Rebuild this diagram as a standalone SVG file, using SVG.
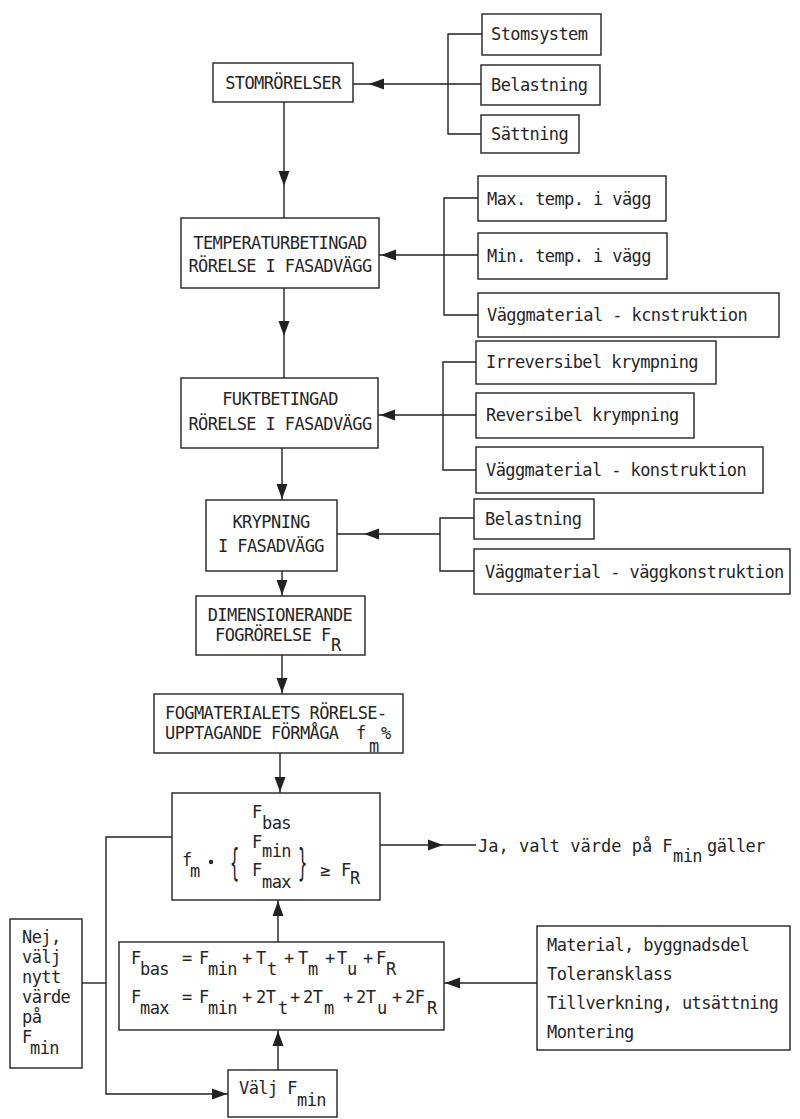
<svg xmlns="http://www.w3.org/2000/svg" xmlns:xlink="http://www.w3.org/1999/xlink" width="800" height="1119" viewBox="0 0 800 1119">
<defs>
<style>
.box{fill:none;stroke:#222;stroke-width:1.4}
.ln{fill:none;stroke:#222;stroke-width:1.4}
.ah{fill:#222;stroke:none}
text{font-family:"DejaVu Sans Mono","Liberation Mono",monospace;font-size:17px;letter-spacing:-0.6px;fill:#262626}
.c{text-anchor:middle}
</style>
<path id="ah" d="M0,0 L-15,-5.5 L-15,5.5 Z"/>
</defs>
<rect width="800" height="1119" fill="#ffffff"/>

<g id="connectors">
<path class="ln" d="M482,34 H448 V134 H481 M481,84 H353"/>
<path class="ln" d="M284,102 V218"/>
<path class="ln" d="M478,198 H444 V315 H478 M478,255 H379"/>
<path class="ln" d="M284,288 V378"/>
<path class="ln" d="M476,362 H443 V470 H476 M476,415 H378"/>
<path class="ln" d="M282,448 V500"/>
<path class="ln" d="M474,518 H440 V571 H474 M440,534 H337"/>
<path class="ln" d="M282,571 V596"/>
<path class="ln" d="M282,655 V694"/>
<path class="ln" d="M280,753 V793"/>
<path class="ln" d="M380,845 H476"/>
<path class="ln" d="M278,942 V900"/>
<path class="ln" d="M278,1070 V1030"/>
<path class="ln" d="M537,983 H444"/>
<path class="ln" d="M172,837 H106 V1094 H228"/>
<path class="ln" d="M82,983 H106"/>
<use href="#ah" class="ah" transform="translate(369,84) rotate(180)"/>
<use href="#ah" class="ah" transform="translate(284,186) rotate(90)"/>
<use href="#ah" class="ah" transform="translate(381,255) rotate(180)"/>
<use href="#ah" class="ah" transform="translate(284,336) rotate(90)"/>
<use href="#ah" class="ah" transform="translate(380,415) rotate(180)"/>
<use href="#ah" class="ah" transform="translate(282,499) rotate(90)"/>
<use href="#ah" class="ah" transform="translate(364,534) rotate(180)"/>
<use href="#ah" class="ah" transform="translate(282,595) rotate(90)"/>
<use href="#ah" class="ah" transform="translate(282,693) rotate(90)"/>
<use href="#ah" class="ah" transform="translate(280,792) rotate(90)"/>
<use href="#ah" class="ah" transform="translate(443,845)"/>
<use href="#ah" class="ah" transform="translate(278,901) rotate(-90)"/>
<use href="#ah" class="ah" transform="translate(278,1031) rotate(-90)"/>
<use href="#ah" class="ah" transform="translate(445,983) rotate(180)"/>
<use href="#ah" class="ah" transform="translate(227,1094)"/>
</g>

<g id="stomrorelser">
<rect class="box" x="213" y="63" width="140" height="39"/>
<text class="c" x="283" y="89">STOMRÖRELSER</text>
</g>
<g id="stomsystem">
<rect class="box" x="482" y="14" width="119" height="41"/>
<text x="491" y="40">Stomsystem</text>
</g>
<g id="belastning1">
<rect class="box" x="481" y="65" width="119" height="40"/>
<text x="491" y="91">Belastning</text>
</g>
<g id="sattning">
<rect class="box" x="481" y="115" width="98" height="38"/>
<text x="491" y="140">Sättning</text>
</g>

<g id="temperatur">
<rect class="box" x="181" y="218" width="198" height="70"/>
<text class="c" x="280" y="249">TEMPERATURBETINGAD</text>
<text class="c" x="280" y="272">RÖRELSE I FASADVÄGG</text>
</g>
<g id="maxtemp">
<rect class="box" x="478" y="176" width="188" height="45"/>
<text x="487" y="205">Max. temp. i vägg</text>
</g>
<g id="mintemp">
<rect class="box" x="478" y="233" width="189" height="46"/>
<text x="487" y="262">Min. temp. i vägg</text>
</g>
<g id="vaggmaterial1">
<rect class="box" x="478" y="293" width="301" height="44"/>
<text x="487" y="321">Väggmaterial - kcnstruktion</text>
</g>

<g id="fukt">
<rect class="box" x="181" y="378" width="197" height="70"/>
<text class="c" x="280" y="405">FUKTBETINGAD</text>
<text class="c" x="280" y="430">RÖRELSE I FASADVÄGG</text>
</g>
<g id="irreversibel">
<rect class="box" x="476" y="341" width="240" height="43"/>
<text x="486" y="368">Irreversibel krympning</text>
</g>
<g id="reversibel">
<rect class="box" x="476" y="393" width="218" height="45"/>
<text x="486" y="421">Reversibel krympning</text>
</g>
<g id="vaggmaterial2">
<rect class="box" x="476" y="447" width="287" height="46"/>
<text x="486" y="476">Väggmaterial - konstruktion</text>
</g>

<g id="krypning">
<rect class="box" x="206" y="500" width="131" height="71"/>
<text class="c" x="271" y="528">KRYPNING</text>
<text class="c" x="271" y="552">I FASADVÄGG</text>
</g>
<g id="belastning2">
<rect class="box" x="474" y="499" width="120" height="40"/>
<text x="485" y="525">Belastning</text>
</g>
<g id="vaggmaterial3">
<rect class="box" x="474" y="549" width="316" height="45"/>
<text x="485" y="578">Väggmaterial - väggkonstruktion</text>
</g>

<g id="dimensionerande">
<rect class="box" x="196" y="596" width="169" height="59"/>
<text class="c" x="280" y="621">DIMENSIONERANDE</text>
<text x="215" y="641">FOGRÖRELSE F</text>
<text x="331" y="651">R</text>
</g>

<g id="fogmaterial">
<rect class="box" x="154" y="694" width="249" height="59"/>
<text x="165" y="719">FOGMATERIALETS RÖRELSE-</text>
<text x="165" y="739">UPPTAGANDE FÖRMÅGA</text>
<text x="356" y="739">f</text>
<text x="369" y="752">m</text>
<text x="381" y="739">%</text>
</g>

<g id="villkor">
<rect class="box" x="172" y="793" width="208" height="107"/>
<text x="252" y="818">F</text>
<text x="262" y="829">bas</text>
<text x="182" y="866">f</text>
<text x="190" y="877">m</text>
<circle cx="211" cy="862" r="2.2" fill="#262626"/>
<text transform="translate(230,875) scale(0.9,2.2)">{</text>
<text x="252" y="848">F</text>
<text x="262" y="857">min</text>
<text x="252" y="876">F</text>
<text x="262" y="888">max</text>
<text transform="translate(298,875) scale(0.9,2.2)">}</text>
<text x="320" y="876">≥</text>
<text x="341" y="876">F</text>
<text x="350" y="884">R</text>
</g>

<g id="formler">
<rect class="box" x="119" y="942" width="325" height="88"/>
<text x="131" y="964">F</text>
<text x="140" y="975">bas</text>
<text x="182" y="964">=</text>
<text x="199" y="964">F</text>
<text x="208" y="975">min</text>
<text x="242" y="964">+</text>
<text x="256" y="964">T</text>
<text x="267" y="975">t</text>
<text x="284" y="964">+</text>
<text x="298" y="964">T</text>
<text x="308" y="975">m</text>
<text x="325" y="964">+</text>
<text x="337" y="964">T</text>
<text x="347" y="975">u</text>
<text x="363" y="964">+</text>
<text x="376" y="964">F</text>
<text x="386" y="975">R</text>
<text x="131" y="1003">F</text>
<text x="140" y="1014">max</text>
<text x="182" y="1003">=</text>
<text x="199" y="1003">F</text>
<text x="208" y="1014">min</text>
<text x="242" y="1003">+</text>
<text x="256" y="1003">2T</text>
<text x="278" y="1014">t</text>
<text x="290" y="1003">+</text>
<text x="303" y="1003">2T</text>
<text x="324" y="1014">m</text>
<text x="343" y="1003">+</text>
<text x="356" y="1003">2T</text>
<text x="377" y="1014">u</text>
<text x="392" y="1003">+</text>
<text x="405" y="1003">2F</text>
<text x="427" y="1014">R</text>
</g>

<g id="ja">
<text x="478" y="852" textLength="194" lengthAdjust="spacing">Ja, valt värde på F</text>
<text x="673" y="862">min</text>
<text x="707" y="852">gäller</text>
</g>

<g id="nej">
<rect class="box" x="10" y="919" width="72" height="149"/>
<text x="22" y="943">Nej,</text>
<text x="22" y="963">välj</text>
<text x="22" y="983">nytt</text>
<text x="22" y="1003">värde</text>
<text x="22" y="1023">på</text>
<text x="22" y="1043">F</text>
<text x="30" y="1054">min</text>
</g>

<g id="valj">
<rect class="box" x="228" y="1070" width="109" height="47"/>
<text x="239" y="1094">Välj F</text>
<text x="297" y="1106">min</text>
</g>

<g id="material">
<rect class="box" x="537" y="926" width="253" height="124"/>
<text x="547" y="951">Material, byggnadsdel</text>
<text x="547" y="980">Toleransklass</text>
<text x="547" y="1009">Tillverkning, utsättning</text>
<text x="547" y="1038">Montering</text>
</g>
</svg>
